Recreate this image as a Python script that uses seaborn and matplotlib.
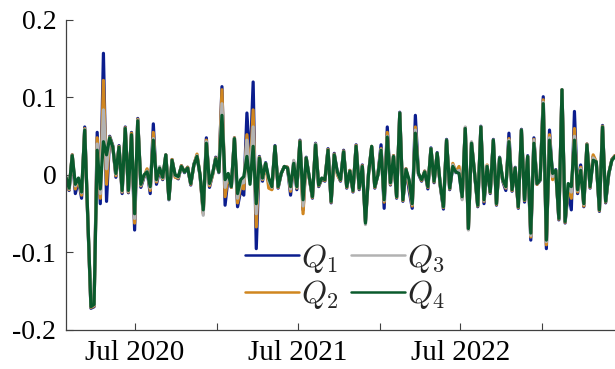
import pandas as pd
import matplotlib.pyplot as plt
import seaborn as sns

q1 = [-0.005, -0.020, 0.026, -0.024, -0.006, -0.030, 0.062, -0.060, -0.172, -0.170,
      0.055, -0.037, 0.157, -0.034, 0.050, 0.038, -0.003, 0.038, -0.024, 0.062,
      -0.023, 0.055, -0.071, 0.073, -0.016, -0.003, 0.006, -0.024, 0.066, -0.012,
      0.006, -0.006, 0.026, -0.032, 0.020, -0.002, -0.005, 0.012, 0.003, 0.010,
      -0.013, 0.014, 0.025, -0.002, -0.048, 0.048, -0.016, 0.001, 0.023, 0.003,
      0.114, -0.039, -0.002, -0.016, 0.048, -0.041, -0.020, -0.026, 0.080, 0.010,
      0.120, -0.095, 0.024, -0.008, 0.016, -0.010, -0.018, 0.038, -0.017, 0.002,
      0.011, 0.010, -0.026, 0.017, -0.019, 0.045, -0.045, 0.023, -0.004, -0.030,
      0.041, -0.015, -0.005, -0.008, 0.034, -0.036, 0.028, 0.002, -0.008, 0.032,
      -0.017, 0.006, -0.022, 0.039, -0.019, 0.013, -0.060, 0.003, 0.036, -0.017,
      0.001, 0.039, -0.043, 0.062, -0.013, 0.025, -0.030, 0.081, -0.034, 0.008,
      -0.020, -0.043, 0.077, 0.001, -0.008, 0.005, -0.018, 0.035, -0.010, 0.029,
      -0.015, -0.044, 0.046, -0.019, 0.012, 0.003, 0.006, -0.030, 0.061, -0.070,
      0.042, 0.001, -0.041, 0.063, -0.037, 0.012, -0.024, 0.046, -0.039, 0.023,
      -0.008, -0.020, 0.054, -0.021, 0.010, -0.043, 0.059, -0.035, 0.025, -0.084,
      0.048, -0.012, -0.007, 0.101, -0.095, 0.058, -0.004, 0.007, -0.058, 0.110,
      -0.062, -0.020, -0.045, 0.082, -0.024, 0.013, -0.041, 0.040, -0.017, 0.024,
      0.016, -0.047, 0.064, -0.036, 0.001, 0.020, 0.025]
q2 = [-0.004, -0.019, 0.026, -0.018, -0.005, -0.026, 0.060, -0.058, -0.171, -0.169,
      0.048, -0.030, 0.122, -0.012, 0.049, 0.037, -0.001, 0.037, -0.022, 0.061,
      -0.022, 0.054, -0.062, 0.072, -0.014, -0.002, 0.008, -0.020, 0.055, -0.009,
      0.008, -0.005, 0.026, -0.031, 0.020, -0.003, -0.004, 0.012, 0.004, 0.010,
      -0.012, 0.013, 0.027, -0.001, -0.050, 0.045, -0.014, 0.000, 0.022, 0.004,
      0.110, -0.028, 0.000, -0.016, 0.048, -0.036, -0.014, -0.018, 0.052, 0.000,
      0.084, -0.067, 0.023, -0.006, 0.015, -0.017, -0.019, 0.037, -0.016, 0.002,
      0.011, 0.010, -0.021, 0.016, -0.017, 0.044, -0.050, 0.022, -0.004, -0.029,
      0.040, -0.014, -0.005, -0.007, 0.033, -0.035, 0.027, 0.000, -0.007, 0.031,
      -0.016, 0.006, -0.021, 0.038, -0.018, 0.012, -0.060, 0.002, 0.037, -0.016,
      0.001, 0.034, -0.035, 0.055, -0.012, 0.025, -0.029, 0.080, -0.033, 0.008,
      -0.014, -0.040, 0.062, 0.002, -0.007, 0.005, -0.016, 0.034, -0.009, 0.028,
      -0.014, -0.042, 0.045, -0.018, 0.015, 0.004, 0.011, -0.030, 0.061, -0.070,
      0.042, 0.002, -0.040, 0.062, -0.034, 0.013, -0.023, 0.045, -0.038, 0.022,
      -0.007, -0.017, 0.047, -0.020, 0.009, -0.042, 0.058, -0.033, 0.024, -0.080,
      0.046, -0.012, -0.006, 0.097, -0.090, 0.052, -0.006, 0.006, -0.057, 0.110,
      -0.061, -0.016, -0.030, 0.060, -0.022, 0.010, -0.040, 0.040, -0.016, 0.026,
      0.017, -0.046, 0.063, -0.035, 0.002, 0.020, 0.025]
q3 = [-0.003, -0.018, 0.025, -0.014, -0.004, -0.023, 0.059, -0.056, -0.170, -0.168,
      0.040, -0.024, 0.084, 0.008, 0.048, 0.036, 0.001, 0.036, -0.021, 0.060,
      -0.021, 0.050, -0.056, 0.071, -0.013, -0.001, 0.005, -0.017, 0.047, -0.007,
      0.011, -0.004, 0.026, -0.031, 0.019, -0.001, -0.003, 0.011, 0.004, 0.009,
      -0.011, 0.013, 0.025, 0.000, -0.052, 0.043, -0.012, 0.001, 0.021, 0.004,
      0.092, -0.016, 0.001, -0.015, 0.047, -0.030, -0.010, -0.010, 0.045, -0.005,
      0.062, -0.050, 0.022, -0.005, 0.015, -0.008, -0.016, 0.037, -0.015, 0.002,
      0.011, 0.009, -0.018, 0.019, -0.016, 0.043, -0.040, 0.022, -0.003, -0.028,
      0.040, -0.013, -0.004, -0.006, 0.032, -0.034, 0.026, 0.002, -0.006, 0.030,
      -0.015, 0.005, -0.020, 0.037, -0.017, 0.011, -0.064, 0.002, 0.037, -0.015,
      0.000, 0.033, -0.033, 0.050, -0.011, 0.024, -0.028, 0.080, -0.032, 0.007,
      -0.010, -0.038, 0.058, 0.002, -0.006, 0.004, -0.015, 0.034, -0.008, 0.028,
      -0.013, -0.041, 0.045, -0.017, 0.013, 0.004, 0.006, -0.032, 0.062, -0.071,
      0.043, 0.002, -0.039, 0.062, -0.033, 0.012, -0.022, 0.045, -0.037, 0.022,
      -0.006, -0.016, 0.045, -0.019, 0.009, -0.041, 0.058, -0.032, 0.024, -0.078,
      0.045, -0.011, -0.006, 0.094, -0.086, 0.048, -0.002, 0.006, -0.056, 0.110,
      -0.060, -0.013, -0.022, 0.050, -0.020, 0.008, -0.038, 0.039, -0.015, 0.022,
      0.017, -0.045, 0.062, -0.034, 0.002, 0.019, 0.024]
q4 = [-0.003, -0.017, 0.025, -0.012, -0.004, -0.022, 0.058, -0.055, -0.170, -0.167,
      0.032, -0.018, 0.043, 0.026, 0.048, 0.036, 0.002, 0.036, -0.020, 0.060,
      -0.020, 0.052, -0.050, 0.070, -0.012, 0.000, 0.004, -0.015, 0.045, -0.006,
      0.009, -0.003, 0.026, -0.031, 0.019, 0.000, -0.002, 0.011, 0.004, 0.009,
      -0.011, 0.013, 0.024, 0.000, -0.045, 0.041, -0.011, 0.002, 0.021, 0.004,
      0.077, -0.006, 0.002, -0.015, 0.047, -0.024, -0.006, -0.002, 0.024, -0.012,
      0.037, -0.037, 0.022, -0.004, 0.015, -0.004, -0.015, 0.037, -0.015, 0.002,
      0.011, 0.009, -0.015, 0.015, -0.015, 0.043, -0.032, 0.022, -0.003, -0.028,
      0.039, -0.013, -0.004, -0.006, 0.032, -0.034, 0.026, 0.004, -0.006, 0.030,
      -0.015, 0.005, -0.020, 0.037, -0.017, 0.011, -0.062, 0.002, 0.037, -0.015,
      0.000, 0.032, -0.032, 0.049, -0.010, 0.024, -0.028, 0.080, -0.032, 0.007,
      -0.006, -0.037, 0.054, 0.002, -0.006, 0.004, -0.015, 0.034, -0.008, 0.028,
      -0.013, -0.041, 0.045, -0.017, 0.011, 0.004, 0.002, -0.028, 0.060, -0.069,
      0.041, 0.002, -0.039, 0.062, -0.032, 0.011, -0.022, 0.045, -0.037, 0.022,
      -0.006, -0.015, 0.043, -0.019, 0.009, -0.041, 0.058, -0.032, 0.024, -0.075,
      0.041, -0.011, -0.006, 0.092, -0.084, 0.045, 0.002, 0.006, -0.056, 0.110,
      -0.060, -0.011, -0.015, 0.045, -0.019, 0.006, -0.037, 0.039, -0.015, 0.019,
      0.017, -0.045, 0.062, -0.034, 0.002, 0.019, 0.024]

series_names = ["$Q_1$", "$Q_2$", "$Q_3$", "$Q_4$"]
colors = ["#0b1d8e", "#d0861f", "#b2b2b2", "#0a5a2c"]
tick_dates = ["2020-07-01", "2021-01-01", "2021-07-01", "2022-01-01", "2022-07-01", "2023-01-01"]
tick_labels = ["Jul 2020", "", "Jul 2021", "", "Jul 2022", ""]
y_ticks = [-0.2, -0.1, 0, 0.1, 0.2]
y_labels = ["-0.2", "-0.1", "0", "0.1", "0.2"]

dates = pd.date_range("2020-01-28", periods=len(q4), freq="7D")
df = pd.DataFrame({"date": dates, series_names[0]: q1, series_names[1]: q2,
                   series_names[2]: q3, series_names[3]: q4})
long_df = df.melt(id_vars="date", var_name="series", value_name="value")

sns.set_theme(style="ticks")
plt.rcParams["font.family"] = ["Liberation Serif", "DejaVu Serif"]
plt.rcParams["mathtext.fontset"] = "cm"

fig = plt.figure(figsize=(6.15, 3.69), dpi=100)
ax = fig.add_axes([0.1073, 0.1057, 0.8927, 0.8401])
sns.lineplot(data=long_df, x="date", y="value", hue="series", hue_order=series_names,
             palette=colors, linewidth=2.3, ax=ax)

ax.set_xlim(dates[0], dates[-1])
ax.set_ylim(-0.2, 0.2)
ax.set_xticks(pd.to_datetime(tick_dates))
ax.set_xticklabels(tick_labels)
ax.set_yticks(y_ticks)
ax.set_yticklabels(y_labels)
ax.set_xlabel("")
ax.set_ylabel("")
ax.tick_params(direction="in", length=5, width=0.8, colors="#404040", labelsize=20,
               labelcolor="black", pad=7)
ax.tick_params(axis="x", labelsize=21)
for side in ["top", "right"]:
    ax.spines[side].set_visible(False)
for side in ["left", "bottom"]:
    ax.spines[side].set_color("#404040")
    ax.spines[side].set_linewidth(0.9)

leg = ax.legend(ncol=2, loc="lower left", bbox_to_anchor=(0.326, 0.06), frameon=False,
                fontsize=23, handlelength=1.7, handletextpad=0.05, columnspacing=0.4,
                labelspacing=0.12, borderpad=0, borderaxespad=0)
for line in leg.get_lines():
    line.set_linewidth(1.8)

fig.savefig("out.png", dpi=100)
